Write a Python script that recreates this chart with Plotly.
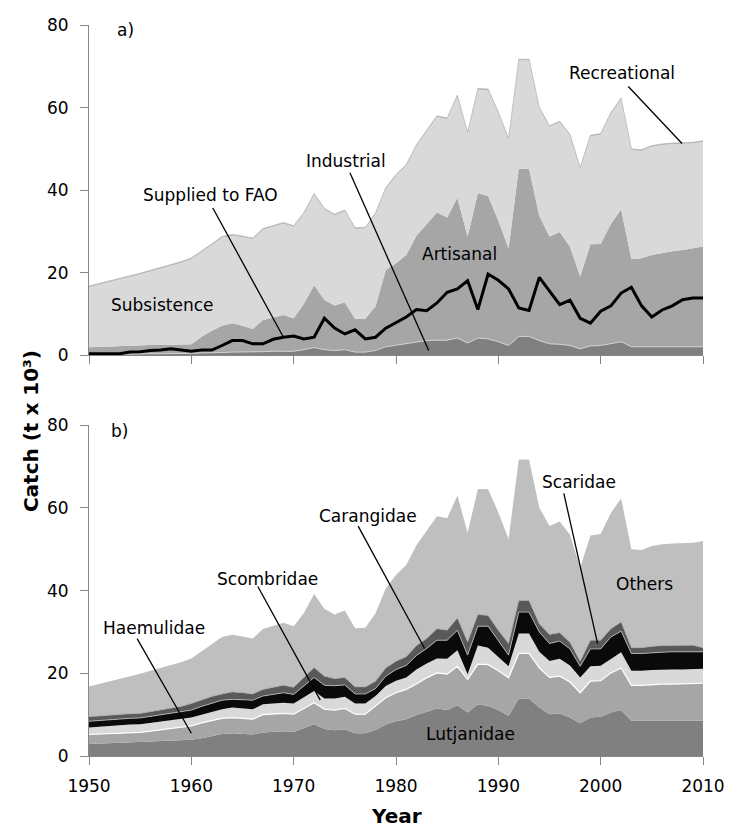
import plotly.graph_objects as go

years = list(range(1950, 2011))

# ---- panel a) catch by sector (t x 10^3) ----
industrial = [0.2,0.2,0.25,0.3,0.3,0.35,0.4,0.4,0.45,0.5,
              0.5,0.6,0.6,0.7,0.8,0.8,0.8,0.9,1.0,1.0,
              1.0,1.4,1.9,1.4,1.2,1.4,0.8,0.8,1.2,2.1,
              2.5,2.8,3.2,3.6,3.7,3.7,4.2,3.0,4.2,4.0,
              3.3,2.4,4.6,4.6,3.6,2.8,2.7,2.4,1.6,2.3,
              2.4,2.9,3.3,2.1,2.1,2.1,2.1,2.1,2.1,2.1,
              2.1]
artisanal = [1.8,1.9,1.95,2.0,2.0,2.05,2.1,2.1,2.15,2.1,
             2.2,3.9,5.4,6.5,7.0,6.4,5.6,7.7,8.2,8.8,
             8.0,11.1,15.1,12.1,10.9,11.5,8.0,8.1,10.7,18.6,
             19.8,21.5,25.8,28.2,30.9,29.7,34.0,25.8,35.1,34.6,
             29.3,23.5,40.6,40.6,30.2,26.0,27.2,23.9,17.5,24.6,
             24.6,28.9,32.1,21.2,21.4,22.2,22.7,23.1,23.4,23.8,
             24.3]
subsistence = [14.5,15.0,15.5,16.1,16.7,17.2,17.8,18.5,19.1,19.8,
               20.6,20.4,20.7,21.3,21.2,21.4,21.7,21.8,21.9,22.1,
               22.1,21.8,21.9,21.8,21.8,22.0,21.8,21.8,22.3,19.6,
               21.2,21.6,21.7,22.4,23.1,23.8,24.5,24.9,25.0,25.6,
               26.0,26.3,26.2,26.2,26.0,26.5,26.5,26.9,26.1,26.1,
               26.4,26.7,26.6,26.4,26.0,26.2,26.1,25.9,25.7,25.4,
               25.3]
recreational = [0.3,0.3,0.3,0.3,0.3,0.3,0.3,0.3,0.3,0.3,
                0.3,0.3,0.3,0.3,0.3,0.3,0.3,0.3,0.3,0.3,
                0.3,0.3,0.3,0.3,0.3,0.3,0.3,0.3,0.3,0.3,
                0.3,0.3,0.3,0.3,0.3,0.3,0.3,0.3,0.3,0.3,
                0.3,0.3,0.3,0.3,0.3,0.3,0.3,0.3,0.3,0.3,
                0.3,0.3,0.3,0.3,0.3,0.3,0.3,0.3,0.3,0.3,
                0.3]
supplied_fao = [0.4,0.4,0.4,0.4,0.8,0.9,1.2,1.3,1.6,1.3,
                1.0,1.3,1.3,2.4,3.6,3.6,2.8,2.8,3.9,4.4,
                4.7,4.0,4.4,9.0,6.6,5.2,6.2,4.0,4.4,6.6,
                8.0,9.3,11.1,10.8,12.7,15.3,16.1,18.1,11.1,19.7,
                18.2,16.1,11.5,10.9,18.9,15.5,12.3,13.4,9.0,7.8,
                10.7,12.0,15.1,16.5,12.0,9.3,11.0,12.0,13.5,13.9,
                13.9]

# ---- panel b) catch by taxon (t x 10^3) ----
lutjanidae = [2.9,3.0,3.0,3.1,3.2,3.3,3.4,3.5,3.6,3.7,
              3.9,4.3,4.8,5.3,5.5,5.4,5.2,5.7,5.9,6.0,
              5.8,6.7,7.7,6.5,6.2,6.4,5.5,5.5,6.3,7.6,
              8.4,8.9,9.9,10.7,11.5,11.1,12.3,10.5,12.5,12.1,
              11.1,9.7,13.9,13.9,11.7,10.1,10.3,9.3,7.9,9.3,
              9.5,10.5,11.1,8.5,8.5,8.5,8.5,8.5,8.5,8.5,
              8.5]
haemulidae = [2.3,2.3,2.4,2.4,2.4,2.4,2.6,2.8,3.0,3.2,
              3.4,3.7,3.8,3.8,3.8,3.7,3.7,4.3,4.3,4.3,
              4.3,4.8,5.2,4.8,4.9,5.1,4.6,4.6,5.8,6.5,
              6.9,7.2,7.5,8.2,8.6,8.7,9.4,8.0,9.7,10.0,
              9.5,9.2,10.9,10.9,9.6,8.9,9.0,8.6,7.4,8.8,
              8.7,9.6,10.2,8.6,8.6,8.8,8.9,8.9,9.0,9.0,
              9.1]
scombridae = [1.7,1.8,1.9,2.0,2.0,2.0,2.0,2.0,2.0,2.0,
              2.0,2.0,2.1,2.2,2.4,2.4,2.4,2.5,2.5,2.6,
              2.6,2.7,2.8,2.6,2.8,2.8,2.6,2.6,2.4,2.8,
              2.9,2.9,3.5,3.5,3.5,3.7,3.9,1.3,4.5,4.1,
              3.4,2.8,4.8,4.8,3.9,4.0,4.2,4.0,3.7,3.6,
              3.6,3.4,3.8,3.5,3.5,3.5,3.5,3.5,3.4,3.5,
              3.5]
carangidae = [1.5,1.5,1.5,1.5,1.5,1.5,1.6,1.6,1.7,1.8,
              1.8,2.0,2.1,2.2,2.0,2.1,2.2,2.0,2.2,2.4,
              2.2,2.8,3.3,3.2,3.1,2.9,2.3,2.3,1.8,2.4,
              2.7,2.9,3.4,3.6,4.4,4.5,4.8,4.6,4.7,5.2,
              4.0,2.7,5.2,5.2,4.8,4.2,4.3,4.0,2.7,4.2,
              4.1,5.3,5.1,4.2,4.2,4.2,4.2,4.3,4.3,4.2,
              4.1]
scaridae = [1.1,1.1,1.1,1.1,1.1,1.1,1.1,1.2,1.3,1.3,
            1.6,1.6,1.6,1.5,1.8,1.7,1.5,1.6,1.7,1.8,
            1.7,2.0,2.4,2.2,1.7,1.8,1.7,1.7,1.8,2.0,
            2.0,2.1,2.4,2.4,2.8,2.4,3.0,3.2,2.8,2.6,
            2.4,2.8,2.8,2.8,2.0,2.2,2.0,1.6,1.2,2.1,
            2.1,2.0,2.2,1.4,1.4,1.5,1.6,1.5,1.5,1.6,
            1.0]
others = [7.3,7.7,8.1,8.6,9.1,9.6,9.9,10.2,10.4,10.7,
          10.9,11.6,12.6,13.8,13.8,13.6,13.4,14.6,14.8,15.1,
          14.8,15.6,17.8,16.3,15.5,16.2,14.2,14.3,16.4,19.3,
          20.9,22.2,24.3,26.1,27.2,27.1,29.6,26.4,30.4,30.5,
          28.5,25.3,34.1,34.1,28.1,26.2,26.9,26.0,22.6,25.3,
          25.7,28.0,29.9,23.8,23.6,24.3,24.5,24.7,24.8,24.8,
          25.8]

FONT = "DejaVu Sans"
fig = go.Figure()

def area(y, name, fill, xa, ya, grp, lc="rgba(0,0,0,0)", lw=0):
    fig.add_trace(go.Scatter(
        x=years, y=y, name=name, mode="lines", stackgroup=grp,
        fillcolor=fill, line=dict(color=lc, width=lw),
        xaxis=xa, yaxis=ya, showlegend=False, hoverinfo="x+y+name"))

# panel a
area(industrial, "Industrial", "#808080", "x", "y", "a", "#cfcfcf", 1)
area(artisanal, "Artisanal", "#a6a6a6", "x", "y", "a")
area(subsistence, "Subsistence", "#d9d9d9", "x", "y", "a")
area(recreational, "Recreational", "#bdbdbd", "x", "y", "a", "#a8a8a8", 0.6)
fig.add_trace(go.Scatter(x=years, y=supplied_fao, name="Supplied to FAO", mode="lines",
                         line=dict(color="black", width=3), xaxis="x", yaxis="y",
                         showlegend=False))

# panel b
area(lutjanidae, "Lutjanidae", "#808080", "x2", "y2", "b")
area(haemulidae, "Haemulidae", "#a6a6a6", "x2", "y2", "b", "#ffffff", 1.2)
area(scombridae, "Scombridae", "#d9d9d9", "x2", "y2", "b")
area(carangidae, "Carangidae", "#0a0a0a", "x2", "y2", "b", "#bfbfbf", 0.8)
area(scaridae, "Scaridae", "#595959", "x2", "y2", "b", "#9a9a9a", 0.6)
area(others, "Others", "#bfbfbf", "x2", "y2", "b")

axcol = "#868686"
xcommon = dict(range=[1950, 2010], tickmode="array", tickvals=list(range(1950, 2011, 10)),
               ticks="outside", ticklen=8, tickcolor=axcol, tickwidth=1,
               showline=True, linecolor=axcol, linewidth=1, showgrid=False, zeroline=False,
               tickfont=dict(family=FONT, size=17, color="black"), ticklabelstandoff=7)
ycommon = dict(range=[0, 80], tickmode="array", tickvals=[0, 20, 40, 60, 80],
               ticks="outside", ticklen=8, tickcolor=axcol, tickwidth=1,
               showline=True, linecolor=axcol, linewidth=1, showgrid=False, zeroline=False,
               tickfont=dict(family=FONT, size=17, color="black"), ticklabelstandoff=8)

# page body has an 8px margin: figure sits at (8, 8)
fig.update_layout(
    width=731, height=819,
    margin=dict(l=81, r=36, t=7, b=71),
    paper_bgcolor="white", plot_bgcolor="white",
    xaxis=dict(domain=[0, 1], anchor="y", showticklabels=False, **xcommon),
    yaxis=dict(domain=[0.548, 1.0], anchor="x", **ycommon),
    xaxis2=dict(domain=[0, 1], anchor="y2", showticklabels=True, **xcommon),
    yaxis2=dict(domain=[0.0, 0.4525], anchor="x2", **ycommon),
    font=dict(family=FONT, size=17, color="black"),
)

def label(text, x, y, xr="x", yr="y", size=17):
    fig.add_annotation(text=text, x=x, y=y, xref=xr, yref=yr, showarrow=False,
                       font=dict(family=FONT, size=size, color="black"),
                       xanchor="center", yanchor="middle")

def leader(x0, y0, x1, y1, xr="x", yr="y"):
    fig.add_shape(type="line", x0=x0, y0=y0, x1=x1, y1=y1, xref=xr, yref=yr,
                  line=dict(color="black", width=1.3))

# panel a labels
fig.add_annotation(text="a)", x=1952.5, y=78.8, xref="x", yref="y", showarrow=False,
                   font=dict(family=FONT, size=17), xanchor="left", yanchor="middle")
label("Subsistence", 1957.2, 12.2)
label("Supplied to FAO", 1961.9, 38.9)
leader(1962.1, 35.7, 1969.0, 4.4)
label("Industrial", 1975.1, 47.0)
leader(1975.5, 44.2, 1983.2, 1.2)
label("Artisanal", 1986.25, 24.6)
label("Recreational", 2002.1, 68.5)
leader(2002.7, 65.1, 2007.95, 51.3)

# panel b labels
fig.add_annotation(text="b)", x=1952.0, y=78.5, xref="x2", yref="y2", showarrow=False,
                   font=dict(family=FONT, size=17), xanchor="left", yanchor="middle")
label("Haemulidae", 1956.4, 31.0, "x2", "y2")
leader(1954.7, 28.4, 1960.0, 5.5, "x2", "y2")
label("Scombridae", 1967.4, 42.9, "x2", "y2")
leader(1966.5, 41.0, 1972.6, 13.5, "x2", "y2")
label("Carangidae", 1977.25, 58.0, "x2", "y2")
leader(1976.3, 55.6, 1982.8, 26.0, "x2", "y2")
label("Scaridae", 1997.9, 66.3, "x2", "y2")
leader(1996.4, 63.5, 1999.7, 27.2, "x2", "y2")
label("Others", 2004.3, 41.7, "x2", "y2")
label("Lutjanidae", 1987.25, 5.4, "x2", "y2")

# axis titles
fig.add_annotation(text="Catch (t x 10³)", x=-0.0955, y=0.445, xref="paper", yref="paper",
                   showarrow=False, textangle=-90, xanchor="center", yanchor="middle",
                   font=dict(family=FONT, size=20, color="black", weight="bold"))
fig.add_annotation(text="Year", x=0.5, y=-0.082, xref="paper", yref="paper",
                   showarrow=False, xanchor="center", yanchor="middle",
                   font=dict(family=FONT, size=20, color="black", weight="bold"))

fig.write_html("out.html")
